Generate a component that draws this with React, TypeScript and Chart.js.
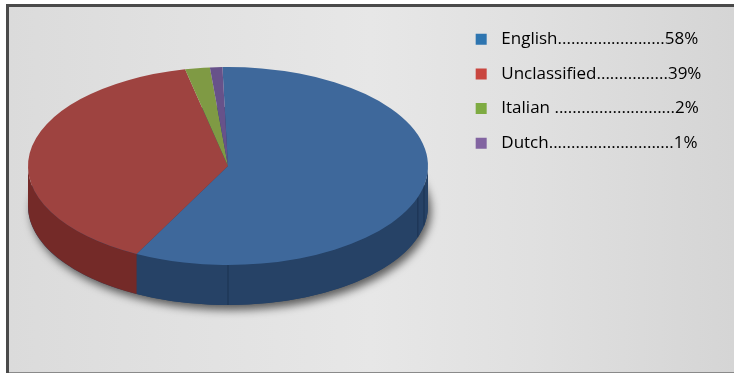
import React, { useEffect, useRef } from "react";
import { Chart, registerables } from "chart.js";

Chart.register(...registerables);

// Language share of the collection
const languages = ["English", "Unclassified", "Italian ", "Dutch"];
const shares = [58, 39, 2, 1];
const leaderDots = [24, 16, 27, 28];

// Slice faces, rim walls and legend swatches
const faceColors = ["#3e689b", "#9e4340", "#7f9a44", "#67528a"];
const wallColors = ["#264266", "#742a28", "#55682c", "#43345c"];
const swatchColors = ["#2e75b0", "#c9463f", "#7eab42", "#8264a1"];

const WIDTH = 734;
const HEIGHT = 373;
const FIRST_SLICE_ANGLE = -1.6;

// Placement of the tilted disc on the canvas
const disc = { cx: 228, cy: 166, rx: 200, ry: 99, depth: 40 };

const backdrop = {
  id: "backdrop",
  beforeDraw(chart: Chart) {
    const { ctx } = chart;
    ctx.save();
    ctx.fillStyle = "#ffffff";
    ctx.fillRect(0, 0, WIDTH, HEIGHT);
    const g = ctx.createLinearGradient(8, 0, WIDTH, 0);
    g.addColorStop(0, "#dbdbdb");
    g.addColorStop(0.2, "#e0e0e0");
    g.addColorStop(0.5, "#e7e7e7");
    g.addColorStop(0.72, "#e0e0e0");
    g.addColorStop(1, "#d5d5d5");
    ctx.fillStyle = g;
    ctx.fillRect(8, 6, WIDTH - 8, HEIGHT - 6);
    ctx.fillStyle = "#4a4a4a";
    ctx.fillRect(6, 4, WIDTH - 6, 3);
    ctx.fillRect(6, 4, 3, HEIGHT - 4);
    ctx.fillStyle = "#8a8a8a";
    ctx.fillRect(9, HEIGHT - 1, WIDTH - 9, 1);
    ctx.restore();
  },
};

// Extrudes the rim below the slices, then flattens the slices into an ellipse
const tiltedDisc = {
  id: "tiltedDisc",
  beforeDatasetsDraw(chart: Chart) {
    const { ctx } = chart;
    const arcs = chart.getDatasetMeta(0).data as any[];
    const { cx, cy, rx, ry, depth } = disc;

    ctx.save();
    ctx.shadowColor = "rgba(0,0,0,0.6)";
    ctx.shadowBlur = 9;
    ctx.shadowOffsetX = 3;
    ctx.shadowOffsetY = 5;
    ctx.fillStyle = wallColors[0];
    ctx.beginPath();
    ctx.ellipse(cx, cy + depth, rx, ry, 0, 0, Math.PI * 2);
    ctx.fill();
    ctx.restore();

    arcs.forEach((arc, i) => {
      const from = Math.max(arc.startAngle, 0);
      const to = Math.min(arc.endAngle, Math.PI);
      if (to <= from) return;
      ctx.beginPath();
      ctx.ellipse(cx, cy, rx, ry, 0, from, to);
      ctx.ellipse(cx, cy + depth, rx, ry, 0, to, from, true);
      ctx.closePath();
      ctx.fillStyle = wallColors[i];
      ctx.fill();
    });

    // Faint seams where the rim facets meet
    ctx.strokeStyle = "rgba(16,32,56,0.45)";
    ctx.lineWidth = 1;
    [Math.PI / 2, 0.32, 0.2].forEach((a) => {
      const x = cx + rx * Math.cos(a);
      const y = cy + ry * Math.sin(a);
      ctx.beginPath();
      ctx.moveTo(x, y);
      ctx.lineTo(x, y + depth);
      ctx.stroke();
    });

    const first = arcs[0];
    const r = first.outerRadius;
    ctx.save();
    ctx.translate(cx, cy);
    ctx.scale(rx / r, ry / r);
    ctx.translate(-first.x, -first.y);
  },
  afterDatasetsDraw(chart: Chart) {
    chart.ctx.restore();
  },
};

export default function App() {
  const ref = useRef<HTMLCanvasElement>(null);
  useEffect(() => {
    const chart = new Chart(ref.current!, {
      type: "pie",
      data: {
        labels: languages,
        datasets: [
          {
            data: shares,
            backgroundColor: faceColors,
            borderWidth: 0,
          },
        ],
      },
      options: {
        responsive: false,
        animation: false,
        rotation: FIRST_SLICE_ANGLE,
        layout: { padding: { top: 13, right: 22.6, left: 10, bottom: 10 } },
        plugins: {
          tooltip: { enabled: false },
          legend: {
            position: "right",
            align: "start",
            labels: {
              boxWidth: 11,
              boxHeight: 11,
              padding: 17.7,
              color: "#4a4a4a",
              font: { family: "'Open Sans'", size: 17 },
              generateLabels: () =>
                languages.map((name, i) => ({
                  text: ` \u200a${name}${".".repeat(leaderDots[i])}${shares[i]}%`,
                  fillStyle: swatchColors[i],
                  strokeStyle: swatchColors[i],
                  lineWidth: 0,
                  hidden: false,
                  index: i,
                })),
            },
          },
        },
      },
      plugins: [backdrop, tiltedDisc],
    });
    return () => chart.destroy();
  }, []);
  return (
    <div style={{ position: "absolute", left: 0, top: 0, width: WIDTH, height: HEIGHT }}>
      <canvas ref={ref} width={WIDTH} height={HEIGHT} style={{ display: "block" }} />
    </div>
  );
}
